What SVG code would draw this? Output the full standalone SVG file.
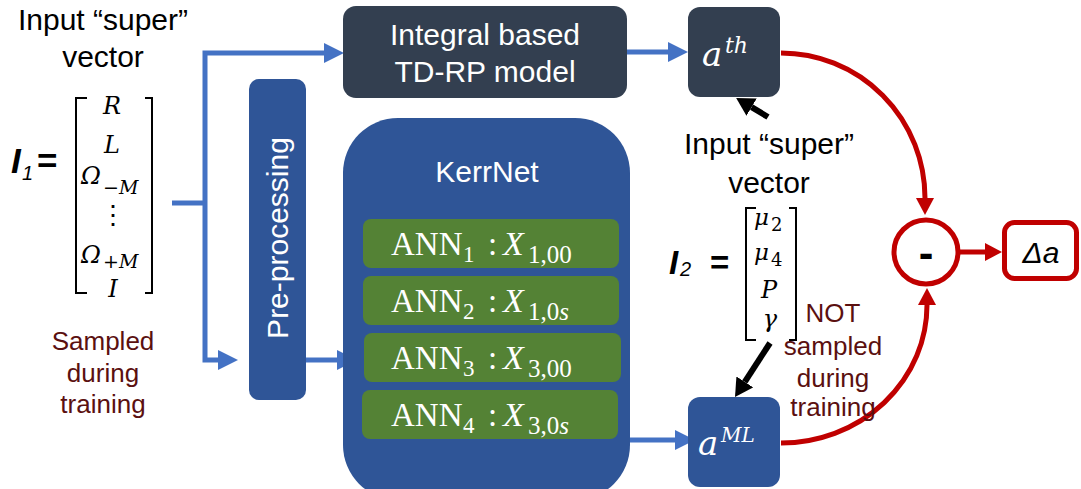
<svg xmlns="http://www.w3.org/2000/svg" width="1081" height="489" viewBox="0 0 1081 489">
<style>
.sans{font-family:"Liberation Sans",Arial,sans-serif}
.serif{font-family:"Liberation Serif","Times New Roman",serif}
.math{font-family:"DejaVu Serif",serif}
.it{font-style:italic}
.w{fill:#ffffff}
.k{fill:#000000}
.dr{fill:#5b1010}
.blue{stroke:#4472c4;stroke-width:5;fill:none}
.red{stroke:#c00000;stroke-width:5;fill:none}
.blk{stroke:#000000;stroke-width:6;fill:none}
.slate{fill:#333f50}
.navy{fill:#2f5597}
.green{fill:#548235}
.brk{stroke:#000000;stroke-width:2;fill:none}
</style>
<defs>
<marker id="ab" markerUnits="userSpaceOnUse" markerWidth="20" markerHeight="20" refX="0" refY="10" orient="auto"><path d="M0,0 L20,10 L0,20 z" fill="#4472c4"/></marker>
<marker id="ar" markerUnits="userSpaceOnUse" markerWidth="17" markerHeight="18" refX="0" refY="9" orient="auto"><path d="M0,0 L17,9 L0,18 z" fill="#c00000"/></marker>
<marker id="ak" markerUnits="userSpaceOnUse" markerWidth="18" markerHeight="20" refX="0" refY="10" orient="auto"><path d="M0,0 L18,10 L0,20 z" fill="#000000"/></marker>
</defs>

<g id="connectors">
<path class="blue" d="M172,203 H205"/>
<path class="blue" d="M323,53 H205 V360 H218" marker-end="url(#ab)"/>
<path class="blue" d="M323,53 H324" marker-end="url(#ab)"/>
<path class="blue" d="M306,360 H337" marker-end="url(#ab)"/>
<path class="blue" d="M627,52 H668" marker-end="url(#ab)"/>
<path class="blue" d="M630,440 H675" marker-end="url(#ab)"/>
<path class="red" d="M781,53 A144 145 0 0 1 925,198" marker-end="url(#ar)"/>
<path class="red" d="M781,443 A146 138 0 0 0 927,305" marker-end="url(#ar)"/>
<path class="red" d="M958,252 H985" marker-end="url(#ar)"/>
<path class="blk" d="M768,117 L751.6,107.2" marker-end="url(#ak)"/>
<path class="blk" d="M770,343 L744.8,381.9" marker-end="url(#ak)"/>
</g>

<g id="input1">
<text class="sans k" font-size="30" text-anchor="middle" x="103" y="30">Input “super”</text>
<text class="sans k" font-size="30" text-anchor="middle" x="103" y="67">vector</text>
<text class="sans k it" font-size="35" font-weight="bold" x="11" y="173">I</text>
<text class="sans k it" font-size="20" x="22" y="180">1</text>
<text class="sans k" font-size="35" font-weight="bold" x="37" y="173">=</text>
<path class="brk" d="M87,98 H76 V293 H87 M145,98 H152 V293 H145"/>
<text class="math it k" font-size="24" text-anchor="middle" x="112" y="114">R</text>
<text class="math it k" font-size="24" text-anchor="middle" x="112" y="153">L</text>
<text class="math it k" font-size="24" x="81" y="184">Ω</text>
<text class="math k" font-size="19" x="103" y="194">−<tspan class="it">M</tspan></text>
<text class="serif k" font-size="26" text-anchor="middle" x="113" y="224">⋮</text>
<text class="math it k" font-size="24" x="81" y="263">Ω</text>
<text class="math k" font-size="19" x="103" y="268">+<tspan class="it">M</tspan></text>
<text class="math it k" font-size="24" text-anchor="middle" x="113" y="297">I</text>
<text class="sans dr" font-size="26" text-anchor="middle" x="103" y="350">Sampled</text>
<text class="sans dr" font-size="26" text-anchor="middle" x="103" y="382">during</text>
<text class="sans dr" font-size="26" text-anchor="middle" x="103" y="413">training</text>
</g>

<g id="preprocessing">
<rect class="navy" x="249" y="79" width="57" height="321" rx="10"/>
<text class="sans w" font-size="30" text-anchor="middle" transform="translate(288,238) rotate(-90)">Pre-processing</text>
</g>

<g id="tdrp">
<rect class="slate" x="343" y="6" width="284" height="92" rx="13"/>
<text class="sans w" font-size="30" text-anchor="middle" x="485" y="45">Integral based</text>
<text class="sans w" font-size="30" text-anchor="middle" x="485" y="82">TD-RP model</text>
</g>

<g id="kerrnet">
<rect class="navy" x="343" y="118" width="287" height="382" rx="55"/>
<text class="sans w" font-size="30" text-anchor="middle" x="487" y="182">KerrNet</text>
</g>

<g id="ann1">
<rect class="green" x="363" y="219" width="256" height="49" rx="8"/>
<text class="serif w" font-size="33" x="391" y="255">ANN</text>
<text class="serif w" font-size="23" x="463" y="262">1</text>
<text class="serif w" font-size="33" x="488" y="255">:</text>
<text class="serif w it" font-size="34" x="503" y="255">X</text>
<text class="serif w" font-size="25" x="528" y="263">1,00</text>
</g>
<g id="ann2">
<rect class="green" x="363" y="276" width="256" height="49" rx="8"/>
<text class="serif w" font-size="33" x="391" y="312">ANN</text>
<text class="serif w" font-size="23" x="463" y="319">2</text>
<text class="serif w" font-size="33" x="488" y="312">:</text>
<text class="serif w it" font-size="34" x="503" y="312">X</text>
<text class="serif w" font-size="25" x="528" y="320">1,0<tspan class="it">s</tspan></text>
</g>
<g id="ann3">
<rect class="green" x="364" y="333" width="257" height="49" rx="8"/>
<text class="serif w" font-size="33" x="391" y="369">ANN</text>
<text class="serif w" font-size="23" x="463" y="376">3</text>
<text class="serif w" font-size="33" x="488" y="369">:</text>
<text class="serif w it" font-size="34" x="503" y="369">X</text>
<text class="serif w" font-size="25" x="528" y="377">3,00</text>
</g>
<g id="ann4">
<rect class="green" x="362" y="390" width="256" height="49" rx="8"/>
<text class="serif w" font-size="33" x="391" y="426">ANN</text>
<text class="serif w" font-size="23" x="463" y="433">4</text>
<text class="serif w" font-size="33" x="488" y="426">:</text>
<text class="serif w it" font-size="34" x="503" y="426">X</text>
<text class="serif w" font-size="25" x="528" y="434">3,0<tspan class="it">s</tspan></text>
</g>

<g id="ath">
<rect class="slate" x="688" y="7" width="92" height="90" rx="12"/>
<text class="math w it" font-size="34" x="702" y="66">a</text>
<text class="math w it" font-size="22" x="725" y="53">th</text>
</g>

<g id="aml">
<rect class="navy" x="688" y="397" width="92" height="90" rx="12"/>
<text class="math w it" font-size="34" x="698" y="455">a</text>
<text class="math w it" font-size="20" x="721" y="442">ML</text>
</g>

<g id="input2">
<text class="sans k" font-size="30" text-anchor="middle" x="769" y="154">Input “super”</text>
<text class="sans k" font-size="30" text-anchor="middle" x="769" y="193">vector</text>
<text class="sans k it" font-size="33" font-weight="bold" x="669" y="274">I</text>
<text class="sans k it" font-size="20" x="680" y="276">2</text>
<text class="sans k" font-size="33" font-weight="bold" x="710" y="274">=</text>
<path class="brk" d="M756,208 H746 V340 H756 M789,208 H796 V340 H789"/>
<text class="math it k" font-size="23" x="754" y="225">μ</text>
<text class="math k" font-size="18" x="771" y="231">2</text>
<text class="math it k" font-size="23" x="754" y="260">μ</text>
<text class="math k" font-size="18" x="771" y="266">4</text>
<text class="math it k" font-size="24" text-anchor="middle" x="769" y="298">P</text>
<text class="math it k" font-size="24" text-anchor="middle" x="770" y="327">γ</text>
<text class="sans dr" font-size="26" text-anchor="middle" x="833" y="322">NOT</text>
<text class="sans dr" font-size="26" text-anchor="middle" x="833" y="355">sampled</text>
<text class="sans dr" font-size="26" text-anchor="middle" x="833" y="387">during</text>
<text class="sans dr" font-size="26" text-anchor="middle" x="833" y="416">training</text>
</g>

<g id="minus">
<circle cx="926" cy="252" r="32" fill="#ffffff" stroke="#c00000" stroke-width="5"/>
<text class="sans k" font-size="44" font-weight="bold" text-anchor="middle" x="926" y="268">-</text>
</g>

<g id="delta">
<rect x="1004.5" y="222.5" width="72" height="56" rx="10" fill="#ffffff" stroke="#c00000" stroke-width="5"/>
<text class="sans k it" font-size="30" text-anchor="middle" x="1041" y="263">Δa</text>
</g>
</svg>
